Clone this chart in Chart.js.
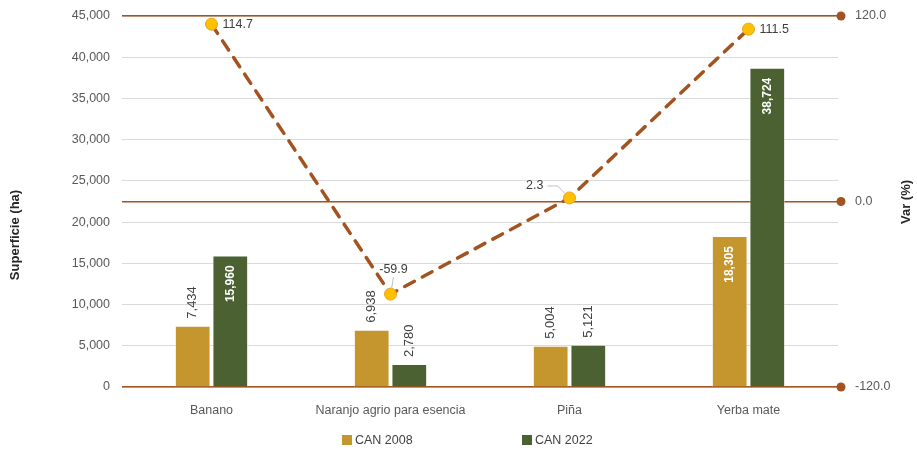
<!DOCTYPE html>
<html>
<head>
<meta charset="utf-8">
<script src="https://cdn.jsdelivr.net/npm/chart.js@4/dist/chart.umd.min.js"></script>
<style>
  html, body { margin: 0; padding: 0; background: #ffffff; }
  #wrap { width: 917px; height: 452px; position: relative; }
</style>
</head>
<body>
<div id="wrap"><canvas id="c" width="917" height="452"></canvas></div>
<script>
// Superficie cultivada (ha) por censo y variación porcentual
const categories = ['Banano', 'Naranjo agrio para esencia', 'Piña', 'Yerba mate'];
const can2008 = [7434, 6938, 5004, 18305];
const can2022 = [15960, 2780, 5121, 38724];
const varPct = [114.7, -59.9, 2.3, 111.5];
const seriesNames = ['CAN 2008', 'CAN 2022'];
const rightTicks = [-120, 0, 120];

const FONT = '"Liberation Sans", Arial, sans-serif';
const GOLD = '#C4962D';
const GREEN = '#4B6131';
const BROWN = '#A2531F';
const TICK = '#595959';
const TEXT = '#404040';

const fmt = v => v.toLocaleString('en-US');

// value labels, leader lines, axis end dots, axis titles and legend
const decorations = {
  id: 'decorations',
  afterDatasetsDraw(chart) {
    const ctx = chart.ctx;
    const area = chart.chartArea;
    ctx.save();

    // bar value labels, rotated
    [0, 1].forEach(di => {
      const meta = chart.getDatasetMeta(di);
      const data = chart.data.datasets[di].data;
      meta.data.forEach((bar, i) => {
        const v = data[i];
        const h = bar.base - bar.y;
        const inside = h > 110;
        ctx.save();
        ctx.translate(bar.x, bar.y);
        ctx.rotate(-Math.PI / 2);
        ctx.textBaseline = 'middle';
        if (inside) {
          ctx.font = 'bold 12px ' + FONT;
          ctx.fillStyle = '#ffffff';
          ctx.textAlign = 'right';
          ctx.fillText(fmt(v), -10, 0);
        } else {
          ctx.font = '13px ' + FONT;
          ctx.fillStyle = TEXT;
          ctx.textAlign = 'left';
          ctx.fillText(fmt(v), 7, 0);
        }
        ctx.restore();
      });
    });

    // line point labels
    const lmeta = chart.getDatasetMeta(2);
    ctx.font = '12.5px ' + FONT;
    ctx.fillStyle = TEXT;
    ctx.textBaseline = 'middle';
    lmeta.data.forEach((pt, i) => {
      const v = varPct[i];
      const txt = v.toFixed(1);
      const x = pt.x, y = pt.y;
      if (i === 0 || i === 3) {
        ctx.textAlign = 'left';
        ctx.fillText(txt, x + 11, y);
      } else if (i === 1) {
        ctx.textAlign = 'center';
        ctx.fillText(txt, x + 3, y - 25);
        ctx.strokeStyle = '#BFBFBF';
        ctx.lineWidth = 1;
        ctx.beginPath();
        ctx.moveTo(x + 3, y - 17);
        ctx.lineTo(x + 1, y - 5);
        ctx.stroke();
      } else {
        ctx.textAlign = 'right';
        ctx.fillText(txt, x - 26, y - 12);
        ctx.strokeStyle = '#BFBFBF';
        ctx.lineWidth = 1;
        ctx.beginPath();
        ctx.moveTo(x - 22, y - 12);
        ctx.lineTo(x - 12, y - 12);
        ctx.lineTo(x - 4, y - 4);
        ctx.stroke();
      }
    });

    // dots at the right end of the percentage gridlines
    const y1 = chart.scales.y1;
    ctx.fillStyle = BROWN;
    rightTicks.forEach(t => {
      const py = y1.getPixelForValue(t);
      ctx.beginPath();
      ctx.arc(area.right + 3, py, 4.5, 0, Math.PI * 2);
      ctx.fill();
    });

    // axis titles
    ctx.fillStyle = '#262626';
    ctx.font = 'bold 13px ' + FONT;
    ctx.textAlign = 'center';
    ctx.textBaseline = 'middle';
    ctx.save();
    ctx.translate(15, 235);
    ctx.rotate(-Math.PI / 2);
    ctx.fillText('Superficie (ha)', 0, 0);
    ctx.restore();
    ctx.save();
    ctx.translate(906, 202);
    ctx.rotate(-Math.PI / 2);
    ctx.fillText('Var (%)', 0, 0);
    ctx.restore();

    // legend
    ctx.font = '12.5px ' + FONT;
    ctx.textAlign = 'left';
    const legendX = [342, 522];
    [0, 1].forEach(di => {
      const ds = chart.data.datasets[di];
      ctx.fillStyle = ds.backgroundColor;
      ctx.fillRect(legendX[di], 435, 10, 10);
      ctx.fillStyle = TEXT;
      ctx.fillText(ds.label, legendX[di] + 13, 441);
    });

    ctx.restore();
  }
};

function fixVertical(width) {
  return scale => {
    scale.width = width;
    scale.paddingTop = 0;
    scale.paddingBottom = 0;
  };
}

new Chart(document.getElementById('c'), {
  type: 'bar',
  data: {
    labels: categories,
    datasets: [
      {
        label: seriesNames[0],
        data: can2008,
        backgroundColor: GOLD,
        borderColor: 'rgba(255,255,255,0.5)',
        borderWidth: 1,
        yAxisID: 'y',
        order: 1,
        categoryPercentage: 0.42,
        barPercentage: 0.95
      },
      {
        label: seriesNames[1],
        data: can2022,
        backgroundColor: GREEN,
        borderColor: 'rgba(255,255,255,0.5)',
        borderWidth: 1,
        yAxisID: 'y',
        order: 1,
        categoryPercentage: 0.42,
        barPercentage: 0.95
      },
      {
        type: 'line',
        label: 'Var (%)',
        data: varPct,
        yAxisID: 'y1',
        order: 0,
        borderColor: BROWN,
        borderWidth: 3.5,
        borderDash: [11, 9],
        borderCapStyle: 'round',
        fill: false,
        tension: 0,
        pointRadius: 6,
        pointBackgroundColor: '#FFC000',
        pointBorderColor: '#E9A21C',
        pointBorderWidth: 1
      }
    ]
  },
  options: {
    responsive: false,
    animation: false,
    layout: { padding: { top: 16, left: 0, right: 0, bottom: 0 } },
    plugins: {
      legend: { display: false },
      tooltip: { enabled: false }
    },
    scales: {
      x: {
        grid: { display: false },
        border: { display: false },
        ticks: {
          color: TICK,
          font: { family: FONT, size: 12.5 },
          padding: 8,
          maxRotation: 0
        },
        afterFit(scale) {
          scale.height = 65;
          scale.paddingLeft = 0;
          scale.paddingRight = 0;
        }
      },
      y: {
        position: 'left',
        min: 0,
        max: 45000,
        border: { display: false },
        grid: { color: '#D9D9D9', lineWidth: 1, drawTicks: false },
        ticks: {
          stepSize: 5000,
          padding: 12,
          color: TICK,
          font: { family: FONT, size: 12.5 },
          callback: v => fmt(v)
        },
        afterFit: fixVertical(122)
      },
      y1: {
        position: 'right',
        min: -120,
        max: 120,
        border: { display: false },
        grid: {
          color: BROWN,
          lineWidth: 1.6,
          drawTicks: true,
          tickLength: 4,
          tickColor: BROWN
        },
        afterBuildTicks(scale) {
          scale.ticks = rightTicks.map(v => ({ value: v }));
        },
        ticks: {
          padding: 13,
          color: TICK,
          font: { family: FONT, size: 12.5 },
          callback: v => Number(v).toFixed(1)
        },
        afterFit: fixVertical(79)
      }
    }
  },
  plugins: [decorations]
});
</script>
</body>
</html>
